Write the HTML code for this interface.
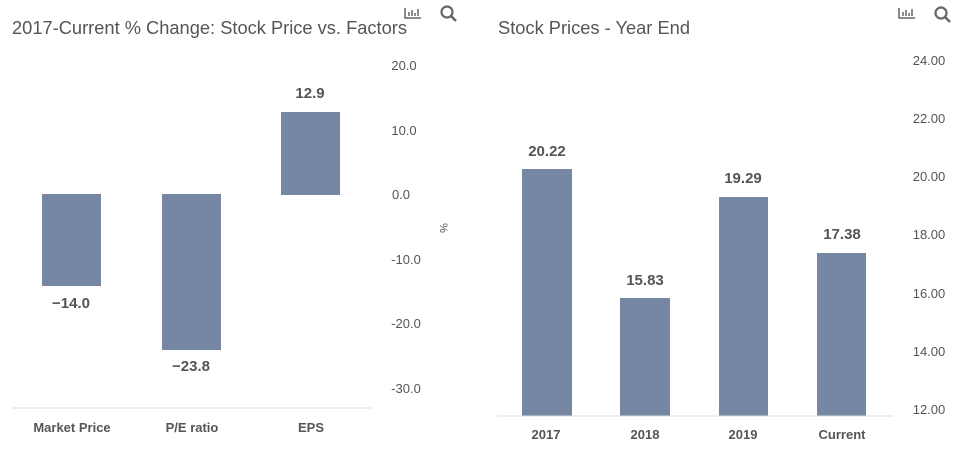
<!DOCTYPE html>
<html><head><style>
body{margin:0;background:#fff;}
svg{display:block;font-family:"Liberation Sans",sans-serif;}
</style></head><body>
<svg width="958" height="453" viewBox="0 0 958 453" xmlns="http://www.w3.org/2000/svg">
<rect width="958" height="453" fill="#fff"/>
<!-- Left chart -->
<text x="12" y="34" font-size="18" fill="#555" textLength="395" lengthAdjust="spacingAndGlyphs">2017-Current % Change: Stock Price vs. Factors</text>
<g fill="none" stroke="#666" stroke-width="1.5">
<path d="M405 8v10h16"/><path d="M409 16v-4M412 16v-6M415 16v-3M418 16v-7"/>
<circle cx="447" cy="12" r="5.5" stroke-width="2.2"/><path d="M451 16l5 5" stroke-width="2.5"/>
</g>
<g fill="#7587a3">
<rect x="42" y="194" width="59" height="92"/>
<rect x="162" y="194" width="59" height="156"/>
<rect x="281" y="112" width="59" height="83"/>
</g>
<line x1="12" y1="408" x2="371" y2="408" stroke="#ddd" stroke-width="1"/>
<g font-size="13" fill="#555" text-anchor="middle">
<text x="404" y="70">20.0</text><text x="404" y="135">10.0</text><text x="401" y="199">0.0</text>
<text x="406" y="264">-10.0</text><text x="406" y="328">-20.0</text><text x="406" y="393">-30.0</text>
</g>
<text x="440" y="228" font-size="11" fill="#555" text-anchor="middle" transform="rotate(90 440 228)">%</text>
<g font-size="15" font-weight="bold" fill="#555" text-anchor="middle">
<text x="310" y="98">12.9</text><text x="71" y="308">−14.0</text><text x="191" y="371">−23.8</text>
</g>
<g font-size="13" font-weight="bold" fill="#555" text-anchor="middle">
<text x="72" y="432">Market Price</text><text x="192" y="432">P/E ratio</text><text x="311" y="432">EPS</text>
</g>
<!-- Right chart -->
<text x="498" y="34" font-size="18" fill="#555" textLength="192" lengthAdjust="spacingAndGlyphs">Stock Prices - Year End</text>
<g fill="none" stroke="#666" stroke-width="1.5">
<path d="M899 8v10h16"/><path d="M903 16v-4M906 16v-6M909 16v-3M912 16v-7"/>
<circle cx="941" cy="13" r="5.5" stroke-width="2.2"/><path d="M945 17l5 5" stroke-width="2.5"/>
</g>
<g fill="#7587a3">
<rect x="522" y="169" width="50" height="247"/>
<rect x="620" y="298" width="50" height="118"/>
<rect x="719" y="197" width="49" height="219"/>
<rect x="817" y="253" width="49" height="163"/>
</g>
<line x1="497" y1="416" x2="893" y2="416" stroke="#ddd" stroke-width="1"/>
<g font-size="13" fill="#555" text-anchor="middle">
<text x="929" y="65">24.00</text><text x="929" y="123">22.00</text><text x="929" y="181">20.00</text>
<text x="929" y="239">18.00</text><text x="929" y="298">16.00</text><text x="929" y="356">14.00</text><text x="929" y="414">12.00</text>
</g>
<g font-size="15" font-weight="bold" fill="#555" text-anchor="middle">
<text x="547" y="156">20.22</text><text x="645" y="285">15.83</text><text x="743" y="183">19.29</text><text x="842" y="239">17.38</text>
</g>
<g font-size="13" font-weight="bold" fill="#555" text-anchor="middle">
<text x="546" y="439">2017</text><text x="645" y="439">2018</text><text x="743" y="439">2019</text><text x="842" y="439">Current</text>
</g>
</svg>
</body></html>
